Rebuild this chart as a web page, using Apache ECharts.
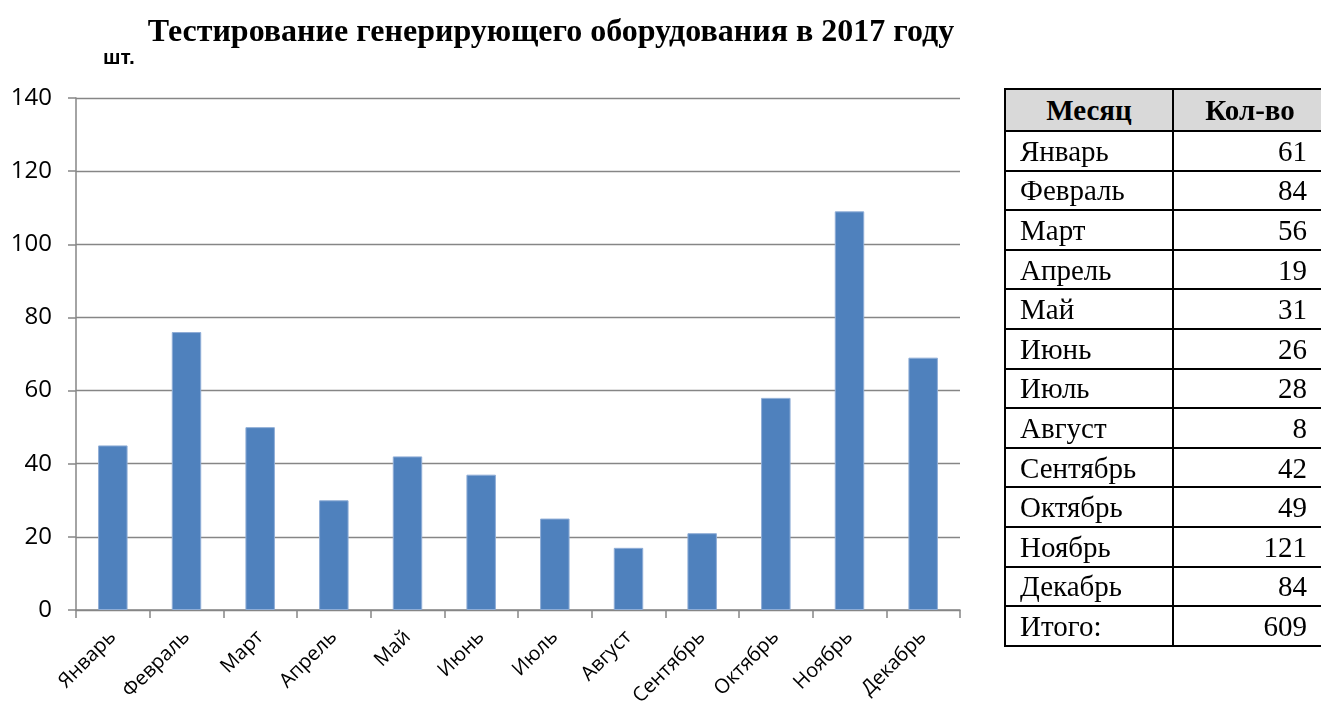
<!DOCTYPE html>
<html>
<head>
<meta charset="utf-8">
<script src="https://cdn.jsdelivr.net/npm/echarts@6/dist/echarts.min.js"></script>
<style>
  html, body { margin: 0; padding: 0; background: #fff; }
  #wrap { position: relative; width: 1321px; height: 702px; overflow: hidden; }
  #chart { position: absolute; left: 0; top: 0; width: 1321px; height: 702px; }
  #tbl {
    position: absolute; left: 1004px; top: 88px;
    border-collapse: collapse; table-layout: fixed; width: 322px;
    font-family: "Liberation Serif", "Times New Roman", serif;
    font-size: 29px; color: #000;
  }
  #tbl td, #tbl th { border: 2px solid #000; padding: 0 14px; height: 37.6px; line-height: 36px; white-space: nowrap; overflow: hidden; }
  #tbl th { background: #D9D9D9; font-weight: bold; text-align: center; height: 40px; }
  #tbl td.m { text-align: left; }
  #tbl td.v { text-align: right; padding-right: 19px; }
</style>
</head>
<body>
<div id="wrap">
  <div id="chart"></div>
  <table id="tbl"><colgroup><col style="width:168px"><col style="width:154px"></colgroup><tbody id="tbody"></tbody></table>
</div>
<script>
// Months on the category axis
const months = ['Январь', 'Февраль', 'Март', 'Апрель', 'Май', 'Июнь', 'Июль', 'Август', 'Сентябрь', 'Октябрь', 'Ноябрь', 'Декабрь'];
// Bar heights, units tested per month
const barValues = [45, 76, 50, 30, 42, 37, 25, 17, 21, 58, 109, 69];
// Summary table beside the chart
const tableHeader = ['Месяц', 'Кол-во'];
const tableMonths = ['Январь', 'Февраль', 'Март', 'Апрель', 'Май', 'Июнь', 'Июль', 'Август', 'Сентябрь', 'Октябрь', 'Ноябрь', 'Декабрь'];
const tableCounts = [61, 84, 56, 19, 31, 26, 28, 8, 42, 49, 121, 84];
const totalLabel = 'Итого:';
const totalCount = 609;

// Build the summary table
const tbody = document.getElementById('tbody');
let html = '<tr><th>' + tableHeader[0] + '</th><th>' + tableHeader[1] + '</th></tr>';
tableMonths.forEach(function (m, i) {
  html += '<tr><td class="m">' + m + '</td><td class="v">' + tableCounts[i] + '</td></tr>';
});
html += '<tr><td class="m">' + totalLabel + '</td><td class="v">' + totalCount + '</td></tr>';
tbody.innerHTML = html;

const chart = echarts.init(document.getElementById('chart'), null, { renderer: 'canvas' });
const axisGray = '#868686';
chart.setOption({
  animation: false,
  backgroundColor: '#fff',
  title: {
    text: 'Тестирование генерирующего оборудования в 2017 году',
    left: 546, top: 12, textAlign: 'center',
    textStyle: { fontFamily: 'Liberation Serif', fontWeight: 'bold', fontSize: 32, color: '#000' }
  },
  grid: { left: 76, right: 361, top: 98, bottom: 92, containLabel: false, outerBoundsMode: 'none' },
  xAxis: {
    type: 'category',
    data: months,
    axisLine: { lineStyle: { color: axisGray, width: 1.5 } },
    axisTick: { show: true, length: 8, lineStyle: { color: axisGray, width: 1.5 } },
    axisLabel: {
      rotate: 45, margin: 24, interval: 0,
      fontFamily: 'Open Sans', fontSize: 20, color: '#000'
    }
  },
  yAxis: {
    type: 'value',
    min: 0, max: 140, interval: 20,
    name: 'шт.',
    nameLocation: 'end',
    nameGap: 29,
    nameTextStyle: { fontFamily: 'Liberation Sans', fontWeight: 'bold', fontSize: 21, color: '#000', align: 'left', padding: [0, 0, 0, 27] },
    axisLine: { show: true, lineStyle: { color: axisGray, width: 1.5 } },
    axisTick: { show: true, length: 8, lineStyle: { color: axisGray, width: 1.5 } },
    axisLabel: { margin: 24, fontFamily: 'Open Sans', fontSize: 24, color: '#000' },
    splitLine: { lineStyle: { color: axisGray, width: 1.3 } }
  },
  series: [{
    type: 'bar',
    data: barValues,
    barWidth: '40%',
    itemStyle: { color: '#4F81BD', borderColor: '#8FADD6', borderWidth: 1 }
  }]
});
</script>
</body>
</html>
